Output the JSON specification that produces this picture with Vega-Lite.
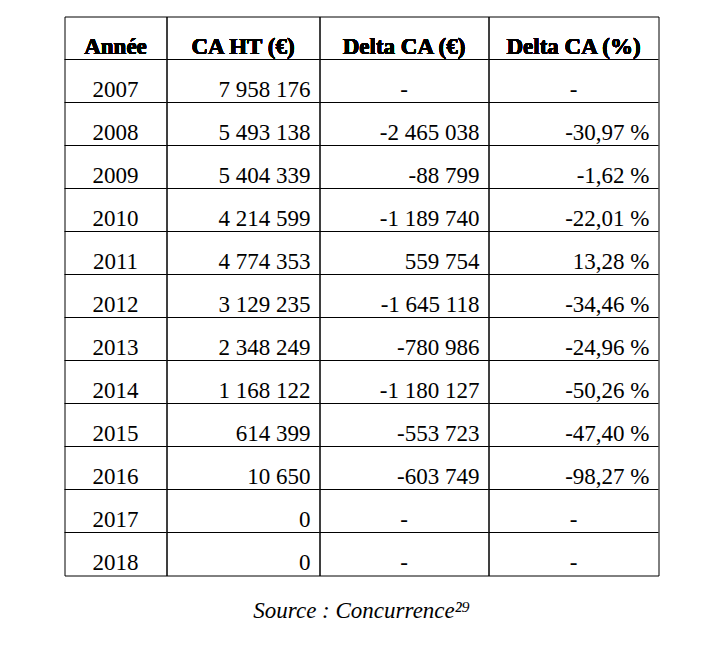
{
  "$schema": "https://vega.github.io/schema/vega-lite/v6.json",
  "padding": {"left": 63.5, "top": 15.5, "right": 0, "bottom": 0},
  "spacing": 0,
  "bounds": "flush",
  "title": {"text": "Source : Concurrence²⁹", "orient": "bottom", "anchor": "middle", "font": "Liberation Serif", "fontStyle": "italic", "fontWeight": "normal", "fontSize": 23, "color": "black", "baseline": "alphabetic", "offset": 42},
  "datasets": {
    "table": [
      {"annee": "2007", "ca": "7 958 176", "delta_eur": "-", "delta_pct": "-"},
      {"annee": "2008", "ca": "5 493 138", "delta_eur": "-2 465 038", "delta_pct": "-30,97 %"},
      {"annee": "2009", "ca": "5 404 339", "delta_eur": "-88 799", "delta_pct": "-1,62 %"},
      {"annee": "2010", "ca": "4 214 599", "delta_eur": "-1 189 740", "delta_pct": "-22,01 %"},
      {"annee": "2011", "ca": "4 774 353", "delta_eur": "559 754", "delta_pct": "13,28 %"},
      {"annee": "2012", "ca": "3 129 235", "delta_eur": "-1 645 118", "delta_pct": "-34,46 %"},
      {"annee": "2013", "ca": "2 348 249", "delta_eur": "-780 986", "delta_pct": "-24,96 %"},
      {"annee": "2014", "ca": "1 168 122", "delta_eur": "-1 180 127", "delta_pct": "-50,26 %"},
      {"annee": "2015", "ca": "614 399", "delta_eur": "-553 723", "delta_pct": "-47,40 %"},
      {"annee": "2016", "ca": "10 650", "delta_eur": "-603 749", "delta_pct": "-98,27 %"},
      {"annee": "2017", "ca": "0", "delta_eur": "-", "delta_pct": "-"},
      {"annee": "2018", "ca": "0", "delta_eur": "-", "delta_pct": "-"}
    ]
  },
  "hconcat": [
    {
      "width": 102, "height": 559,
      "data": {"name": "table"},
      "layer": [
        {"mark": {"type": "rule", "color": "black", "strokeWidth": 1},
         "encoding": {"y": {"field": "annee", "type": "ordinal", "bandPosition": 0, "axis": null, "scale": {"domain": ["Année","2007","2008","2009","2010","2011","2012","2013","2014","2015","2016","2017","2018"], "paddingInner": 0, "paddingOuter": 0}}}},
        {"mark": {"type": "text", "font": "Liberation Serif", "fontSize": 23, "color": "black", "align": "center", "baseline": "alphabetic", "dy": -6},
         "encoding": {"x": {"datum": "c", "type": "nominal", "axis": null, "scale": {"paddingInner": 0, "paddingOuter": 0}}, "y": {"field": "annee", "type": "ordinal", "bandPosition": 1, "axis": null}, "text": {"field": "annee"}}},
        {"mark": {"type": "text", "font": "Liberation Serif", "fontSize": 23, "fontWeight": "bold", "color": "black", "align": "center", "baseline": "alphabetic", "dy": -6, "text": "Année"},
         "encoding": {"x": {"datum": "c", "type": "nominal", "axis": null}, "y": {"datum": "Année", "type": "ordinal", "bandPosition": 1, "axis": null}}}
      ]
    },
    {
      "width": 153, "height": 559,
      "data": {"name": "table"},
      "layer": [
        {"mark": {"type": "rule", "color": "black", "strokeWidth": 1},
         "encoding": {"y": {"field": "annee", "type": "ordinal", "bandPosition": 0, "axis": null, "scale": {"domain": ["Année","2007","2008","2009","2010","2011","2012","2013","2014","2015","2016","2017","2018"], "paddingInner": 0, "paddingOuter": 0}}}},
        {"mark": {"type": "text", "font": "Liberation Serif", "fontSize": 23, "color": "black", "align": "right", "baseline": "alphabetic", "dy": -6, "dx": -9, "x": "width"},
         "encoding": {"y": {"field": "annee", "type": "ordinal", "bandPosition": 1, "axis": null}, "text": {"field": "ca"}}},
        {"mark": {"type": "text", "font": "Liberation Serif", "fontSize": 23, "fontWeight": "bold", "color": "black", "align": "center", "baseline": "alphabetic", "dy": -6, "text": "CA HT (€)"},
         "encoding": {"x": {"datum": "c", "type": "nominal", "axis": null, "scale": {"paddingInner": 0, "paddingOuter": 0}}, "y": {"datum": "Année", "type": "ordinal", "bandPosition": 1, "axis": null}}}
      ]
    },
    {
      "width": 169, "height": 559,
      "data": {"name": "table"},
      "layer": [
        {"mark": {"type": "rule", "color": "black", "strokeWidth": 1},
         "encoding": {"y": {"field": "annee", "type": "ordinal", "bandPosition": 0, "axis": null, "scale": {"domain": ["Année","2007","2008","2009","2010","2011","2012","2013","2014","2015","2016","2017","2018"], "paddingInner": 0, "paddingOuter": 0}}}},
        {"transform": [{"filter": "datum.delta_eur != '-'"}],
         "mark": {"type": "text", "font": "Liberation Serif", "fontSize": 23, "color": "black", "align": "right", "baseline": "alphabetic", "dy": -6, "dx": -9, "x": "width"},
         "encoding": {"y": {"field": "annee", "type": "ordinal", "bandPosition": 1, "axis": null}, "text": {"field": "delta_eur"}}},
        {"transform": [{"filter": "datum.delta_eur == '-'"}],
         "mark": {"type": "text", "font": "Liberation Serif", "fontSize": 23, "color": "black", "align": "center", "baseline": "alphabetic", "dy": -6},
         "encoding": {"x": {"datum": "c", "type": "nominal", "axis": null, "scale": {"paddingInner": 0, "paddingOuter": 0}}, "y": {"field": "annee", "type": "ordinal", "bandPosition": 1, "axis": null}, "text": {"field": "delta_eur"}}},
        {"mark": {"type": "text", "font": "Liberation Serif", "fontSize": 23, "fontWeight": "bold", "color": "black", "align": "center", "baseline": "alphabetic", "dy": -6, "text": "Delta CA (€)"},
         "encoding": {"x": {"datum": "c", "type": "nominal", "axis": null}, "y": {"datum": "Année", "type": "ordinal", "bandPosition": 1, "axis": null}}}
      ]
    },
    {
      "width": 170, "height": 559,
      "data": {"name": "table"},
      "layer": [
        {"mark": {"type": "rule", "color": "black", "strokeWidth": 1},
         "encoding": {"y": {"field": "annee", "type": "ordinal", "bandPosition": 0, "axis": null, "scale": {"domain": ["Année","2007","2008","2009","2010","2011","2012","2013","2014","2015","2016","2017","2018"], "paddingInner": 0, "paddingOuter": 0}}}},
        {"transform": [{"filter": "datum.delta_pct != '-'"}],
         "mark": {"type": "text", "font": "Liberation Serif", "fontSize": 23, "color": "black", "align": "right", "baseline": "alphabetic", "dy": -6, "dx": -9, "x": "width"},
         "encoding": {"y": {"field": "annee", "type": "ordinal", "bandPosition": 1, "axis": null}, "text": {"field": "delta_pct"}}},
        {"transform": [{"filter": "datum.delta_pct == '-'"}],
         "mark": {"type": "text", "font": "Liberation Serif", "fontSize": 23, "color": "black", "align": "center", "baseline": "alphabetic", "dy": -6},
         "encoding": {"x": {"datum": "c", "type": "nominal", "axis": null, "scale": {"paddingInner": 0, "paddingOuter": 0}}, "y": {"field": "annee", "type": "ordinal", "bandPosition": 1, "axis": null}, "text": {"field": "delta_pct"}}},
        {"mark": {"type": "text", "font": "Liberation Serif", "fontSize": 23, "fontWeight": "bold", "color": "black", "align": "center", "baseline": "alphabetic", "dy": -6, "text": "Delta CA (%)"},
         "encoding": {"x": {"datum": "c", "type": "nominal", "axis": null}, "y": {"datum": "Année", "type": "ordinal", "bandPosition": 1, "axis": null}}}
      ]
    }
  ],
  "config": {"view": {"stroke": "black", "strokeWidth": 1}, "background": "white"}
}
